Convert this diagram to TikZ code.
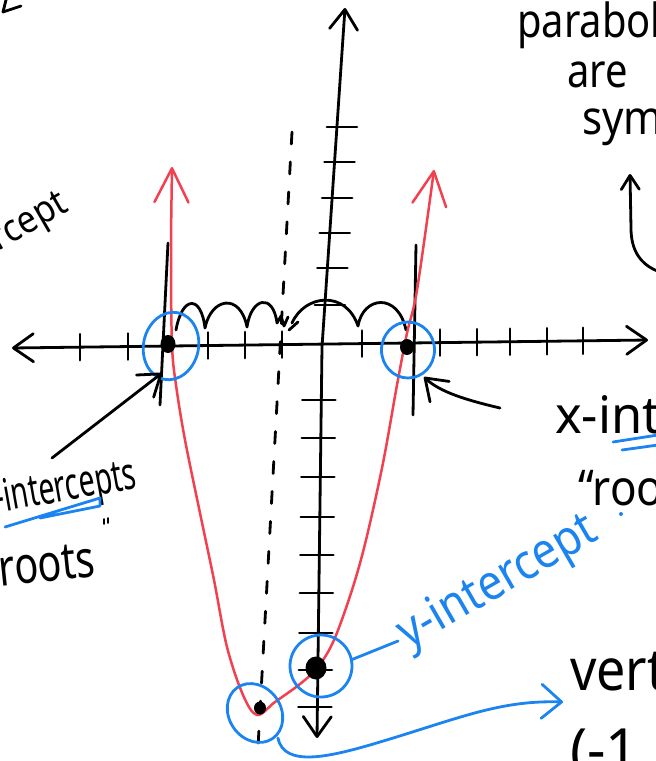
\documentclass[tikz,border=0pt]{standalone}
\usepackage{fontspec}
\setmainfont{Noto Sans}
\usetikzlibrary{arrows.meta,shapes.geometric}
\definecolor{hred}{RGB}{242,64,80}
\definecolor{hblue}{RGB}{28,132,240}
\newcommand\hw[3]{\scalebox{#2}[1.12]{\fontsize{#1}{#1}\selectfont #3}}
\begin{document}
\begin{tikzpicture}[x=1pt,y=-1pt,
  ink/.style={line width=2.8pt,line cap=round,line join=round},
  blk/.style={ink,draw=black},
  redl/.style={ink,draw=hred,line width=2.5pt},
  bl/.style={ink,draw=hblue},
  txt/.style={inner sep=0pt,anchor=base west},
  dot/.style={ellipse,fill=black,inner sep=0pt},
  ring/.style={ellipse,draw=hblue,line width=2.8pt,inner sep=0pt},
  kb/.tip={Straight Barb[length=20pt,width=28pt,line width=2.8pt,round]},
  ks/.tip={Straight Barb[length=14pt,width=18pt,line width=2.8pt,round]},
  rb/.tip={Straight Barb[length=34pt,width=34pt,line width=2.5pt,round]},
  bb/.tip={Straight Barb[length=20pt,width=34pt,line width=2.8pt,round]},
]
\useasboundingbox (0,0) rectangle (656,761);
\clip (0,0) rectangle (656,761);

% axes
\draw[blk,kb-kb] (12,348) -- (648,340);
\draw[blk,kb-kb] (345,8) -- (322,347) -- (317,738);

% y ticks
\foreach \y in {127,162,198,233,268,305}
  \draw[blk] ({345-23*(\y-8)/339-10},\y) -- ({345-23*(\y-8)/339+20},\y);
\foreach \y in {400,438,477,517,555,593,633,670,707}
  \draw[blk] ({322-5*(\y-347)/391-19},\y) -- ({322-5*(\y-347)/391+14},\y);
% x ticks
\foreach \x in {80,128,208,245,282,362,440,477,510,547,583}
  \draw[blk] (\x,{348-8*(\x-12)/636-13}) -- (\x,{348-8*(\x-12)/636+13});

% root verticals
\draw[blk] (168,243) -- (160,405);
\draw[blk] (416,245) -- (413,415);

% axis of symmetry
\draw[blk,dash pattern=on 12pt off 18pt] (292,132) -- (258,747);

% hops between roots
\draw[blk] (176,330) .. controls (182,296) and (201,294) .. (205,328)
  .. controls (211,298) and (240,292) .. (247,327)
  .. controls (251,298) and (273,292) .. (277,323)
  -- (281,316) -- (284,326) -- (288,317);
\draw[blk] (289,330) -- (298,322);
\draw[blk] (292,323) .. controls (305,294) and (346,290) .. (358,326)
  .. controls (363,296) and (398,292) .. (406,330);

% parabola
\draw[redl,rb-rb] plot[smooth,tension=0.55] coordinates {
  (172,167) (171,260) (172,345) (176,385) (185,440) (200,513) (214,580)
  (227,647) (243,695) (257,715) (275,702) (300,684) (318,667) (334,640)
  (352,590) (366,540) (383,463) (397,385) (407,333) (417,290) (434,170)};

% dots
\node[dot,minimum width=15pt,minimum height=18pt] (lroot) at (168,344) {};
\node[dot,minimum width=14pt,minimum height=16pt] (rroot) at (407,347) {};
\node[dot,minimum width=21pt,minimum height=23pt] (yint) at (316,668) {};
\node[dot,minimum width=12pt,minimum height=13pt] (vtx) at (260,708) {};

% blue rings
\node[ring,minimum width=55pt,minimum height=68pt,rotate=-12] (c1) at (171,346) {};
\node[ring,minimum width=53pt,minimum height=56pt] (c2) at (408,350) {};
\node[ring,minimum width=62pt,minimum height=62pt] (c3) at (321,666) {};
\node[ring,minimum width=52pt,minimum height=62pt,rotate=35] (c4) at (255,713) {};

% texts
\node[txt] (parab) at (517,37) {\hw{42}{0.95}{parabolas}};
\node[txt] (are) at (567,87) {\hw{42}{0.95}{are}};
\node[txt] (sym) at (582,134) {\hw{42}{1}{symmetric}};
\node[txt] (xint) at (555,433) {\hw{46}{1.1}{x-intercepts}};
\node[txt] (roo) at (578,505) {\hw{44}{1}{“roots”}};
\node[txt] (vert) at (570,690) {\hw{52}{1}{vertex}};
\node[txt] (vco) at (570,770) {\hw{52}{1.1}{(-1,}};
\node[txt,text=hblue,rotate=30] (ylab) at (408,650) {\hw{44}{1}{y-intercept}};
\node[txt,anchor=base east,rotate=10] (lint) at (138,488) {\hw{40}{0.71}{x-intercepts}};
\node[txt,anchor=base east,rotate=6] (lroots) at (97,576) {\hw{46}{0.86}{“roots}};
\node[txt,anchor=base east,rotate=30] (tlint) at (70,210) {\hw{34}{1}{y-intercept}};

% small marks
\draw[blk,line width=1.6pt] (104,519) -- (104,524) (108,518) -- (108,523);
\draw[blk] (6,0) -- (3,12) -- (21,6);
\fill[hblue] (621,514) circle (2pt);

% blue underlines
\draw[bl] (5,527) -- (100,498) -- (100,506) -- (40,518);
\draw[bl] (613,442) -- (658,435);
\draw[bl] (622,450) -- (658,445);

% connectors
\coordinate (a1) at (52,458);
\coordinate (a1t) at (162,373);
\draw[blk,-kb] (a1) -- (a1t);
\coordinate (a2) at (500,408);
\coordinate (a2t) at (424,377);
\draw[blk,-kb] (a2) .. controls (466,400) and (440,392) .. (a2t);
\coordinate (a3) at (660,272);
\coordinate (a3t) at (630,174);
\draw[blk,-ks] (a3) .. controls (640,265) and (631,250) .. (631,228) -- (a3t);
\coordinate (yl) at (398,641);
\draw[bl] (c3.12) -- (yl);
\coordinate (va) at (278,738);
\coordinate (vt) at (563,702);
\draw[bl,-bb] (va) .. controls (284,768) and (330,757) .. (380,742)
  .. controls (460,718) and (500,700) .. (vt);
\end{tikzpicture}
\end{document}
